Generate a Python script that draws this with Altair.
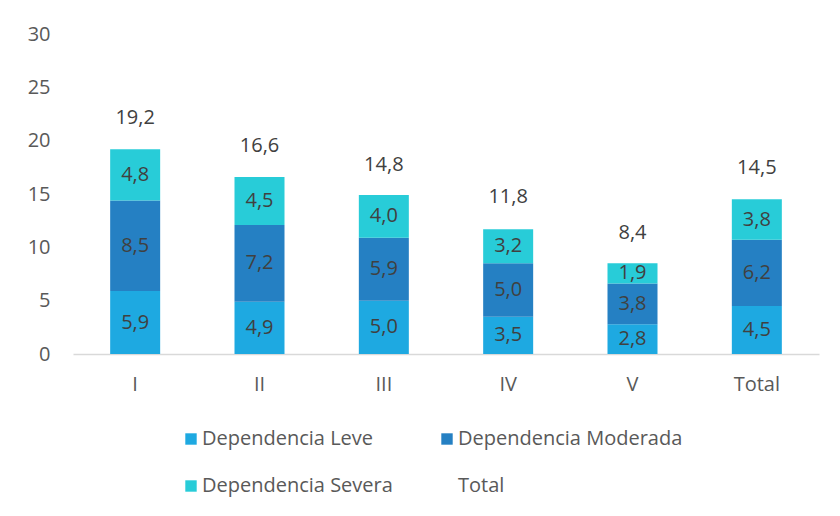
import altair as alt
import pandas as pd

categories = ["I", "II", "III", "IV", "V", "Total"]
series = ["Dependencia Leve", "Dependencia Moderada", "Dependencia Severa"]
leve = [5.9, 4.9, 5.0, 3.5, 2.8, 4.5]
moderada = [8.5, 7.2, 5.9, 5.0, 3.8, 6.2]
severa = [4.8, 4.5, 4.0, 3.2, 1.9, 3.8]
totals = [19.2, 16.6, 14.8, 11.8, 8.4, 14.5]
colors = ["#1EA9E1", "#2580C3", "#28CCD8"]

def fmt(v):
    return f"{v:.1f}".replace(".", ",")

rows = []
for s_i, (s, vals) in enumerate(zip(series, [leve, moderada, severa])):
    for c, v in zip(categories, vals):
        rows.append({"cat": c, "serie": s, "idx": s_i, "value": v, "label": fmt(v)})
df = pd.DataFrame(rows)
tdf = pd.DataFrame({"cat": categories, "total": totals, "label": [fmt(t) for t in totals]})

FONT = "Open Sans"
TXT = "#404040"
FS = 20

x_enc = alt.X("cat:N", sort=categories, title=None,
              scale=alt.Scale(paddingInner=0.6, paddingOuter=0.3),
              axis=alt.Axis(labelAngle=0, ticks=False, domainColor="#D9D9D9", domainWidth=1.5,
                            labelPadding=20, labelFontSize=FS, labelColor="#595959", labelFont=FONT))

bars = alt.Chart(df).mark_bar(size=50).encode(
    x=x_enc,
    y=alt.Y("value:Q", stack="zero", title=None,
            scale=alt.Scale(domain=[0, 30]),
            axis=alt.Axis(values=[0, 5, 10, 15, 20, 25, 30], grid=False, domain=False, ticks=False,
                          labelPadding=23, labelFontSize=FS, labelColor="#595959", labelFont=FONT)),
    color=alt.Color("serie:N",
                    scale=alt.Scale(domain=series + ["Total"], range=colors + ["transparent"]),
                    legend=alt.Legend(title=None, orient="none", legendX=108, legendY=395,
                                      columns=2, direction="horizontal",
                                      symbolType="square", symbolSize=130, symbolStrokeWidth=0,
                                      labelFontSize=FS, labelColor="#595959", labelFont=FONT,
                                      labelLimit=400, columnPadding=44, rowPadding=27, labelOffset=1)),
    order=alt.Order("idx:Q", sort="ascending"),
)

seg_text = alt.Chart(df).transform_stack(
    stack="value", groupby=["cat"], as_=["y0", "y1"], sort=[alt.SortField("idx", order="ascending")]
).transform_calculate(mid="(datum.y0 + datum.y1) / 2").mark_text(
    fontSize=FS, font=FONT, color=TXT, baseline="middle"
).encode(x=alt.X("cat:N", sort=categories), y=alt.Y("mid:Q"), text="label:N")

tot_text = alt.Chart(tdf).mark_text(
    fontSize=FS, font=FONT, color=TXT, baseline="middle", dy=-31
).encode(x=alt.X("cat:N", sort=categories), y=alt.Y("total:Q"), text="label:N")

chart = alt.layer(bars, seg_text, tot_text).properties(
    width=746, height=320,
    padding={"left": 19, "top": 16, "right": 5, "bottom": 5},
).configure(background="white").configure_view(stroke=None)

chart.save("out.html", embed_options={"renderer": "svg", "actions": False})
